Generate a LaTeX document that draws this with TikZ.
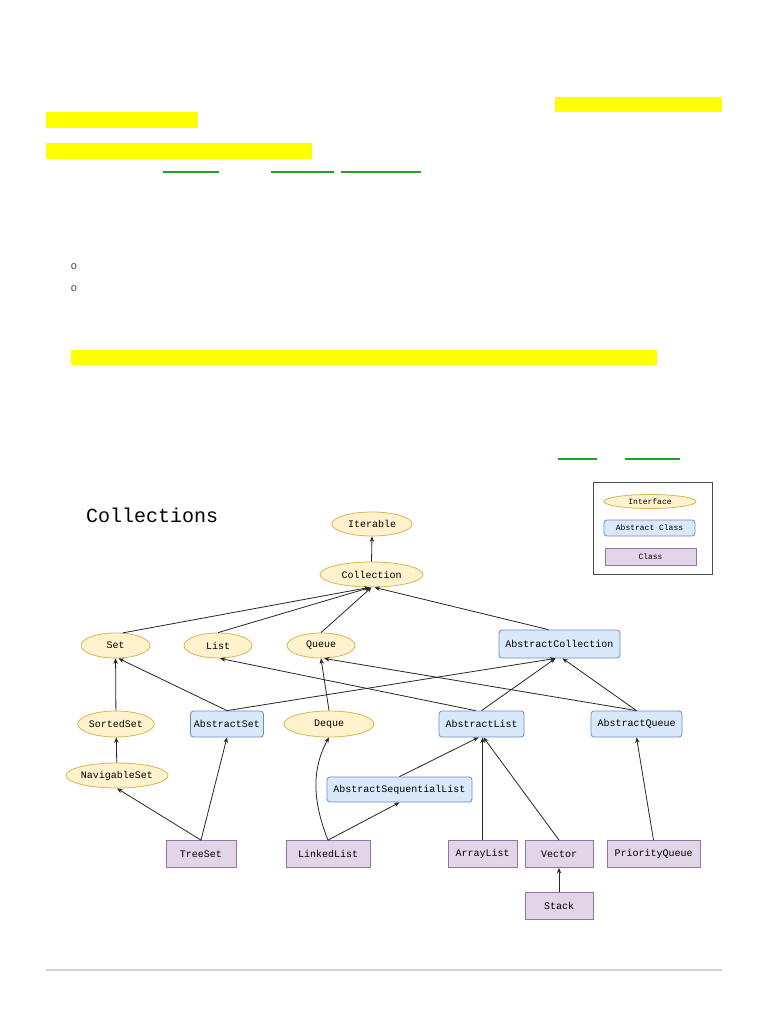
\documentclass[tikz,border=0pt]{standalone}
\usepackage{fontspec}
\setmonofont{Liberation Mono}
\usetikzlibrary{shapes.geometric}
\usetikzlibrary{arrows.meta}
\definecolor{ifacefill}{RGB}{255,242,204}
\definecolor{ifaceline}{RGB}{214,182,86}
\definecolor{absfill}{RGB}{218,232,252}
\definecolor{absline}{RGB}{108,142,191}
\definecolor{clsfill}{RGB}{225,213,231}
\definecolor{clsline}{RGB}{150,115,166}
\definecolor{hilite}{RGB}{255,255,0}
\definecolor{linkgreen}{RGB}{34,160,34}

\begin{document}
\begin{tikzpicture}[x=1pt, y=-1pt, font=\ttfamily\fontsize{10}{12}\selectfont,
    iface/.style={ellipse, draw=ifaceline, fill=ifacefill, line width=0.8pt, inner sep=0pt, minimum height=26pt},
    absclass/.style={rectangle, rounded corners=3pt, draw=absline, fill=absfill, line width=0.8pt, inner sep=0pt, minimum height=26pt},
    cls/.style={rectangle, draw=clsline, fill=clsfill, line width=0.8pt, inner sep=0pt, minimum height=27pt},
    isa/.style={-{Stealth[length=5.5pt,width=4.5pt]}, line width=0.8pt, black!85}]
    \useasboundingbox (0,0) rectangle (768,1024);
    \fill[white] (0,0) rectangle (768,1024);

    % highlighted text and links
    \fill[hilite] (555,97) rectangle (722,112);
    \fill[hilite] (46,112) rectangle (198,128);
    \fill[hilite] (46,143) rectangle (312,159);
    \fill[hilite] (71,350) rectangle (657,365);
    \draw[linkgreen, line width=1.6pt] (163,172) -- (219,172);
    \draw[linkgreen, line width=1.6pt] (271,172) -- (334,172);
    \draw[linkgreen, line width=1.6pt] (341,172) -- (421,172);
    \draw[linkgreen, line width=1.6pt] (558,459) -- (597,459);
    \draw[linkgreen, line width=1.6pt] (625,459) -- (680,459);
    \node[black!70, font=\ttfamily\fontsize{11}{12}\selectfont] (bulA) at (74,267) {o};
    \node[black!70, font=\ttfamily\fontsize{11}{12}\selectfont] (bulB) at (74,289) {o};
    \draw[black!18, line width=1.5pt] (46,970) -- (722,970);

    % title and legend
    \node[anchor=west, inner sep=0pt, font=\ttfamily\fontsize{20}{24}\selectfont] (title) at (86,515) {Collections};
    \node[draw=black!70, line width=1pt, minimum width=119pt, minimum height=92pt] (legend) at (652.5,528) {};
    \node[iface, minimum width=92pt, minimum height=14pt, font=\ttfamily\fontsize{8}{9}\selectfont] (keyiface) at (650,501.5) {Interface};
    \node[absclass, minimum width=91pt, minimum height=16pt, font=\ttfamily\fontsize{8}{9}\selectfont] (keyabs) at (649.5,528) {Abstract Class};
    \node[cls, minimum width=91pt, minimum height=17pt, font=\ttfamily\fontsize{8}{9}\selectfont] (keycls) at (650.5,556.5) {Class};

    % interfaces
    \node[iface, minimum width=80pt, minimum height=24pt] (iter) at (372,524) {Iterable};
    \node[iface, minimum width=103pt, minimum height=25pt] (coll) at (371.5,574.5) {Collection};
    \node[iface, minimum width=69pt, minimum height=25pt] (set) at (115.5,645.5) {Set};
    \node[iface, minimum width=68pt, minimum height=25pt] (list) at (218,645.5) {List};
    \node[iface, minimum width=68pt, minimum height=25pt] (queue) at (321,645.5) {Queue};
    \node[iface, minimum width=68pt] (sortedset) at (116,724) {SortedSet};
    \node[iface, minimum width=90pt] (deque) at (329,724) {Deque};
    \node[iface, minimum width=102pt, minimum height=25pt] (navset) at (117,775.5) {NavigableSet};

    % abstract classes
    \node[absclass, minimum width=121pt, minimum height=28pt] (abscoll) at (559.5,644) {AbstractCollection};
    \node[absclass, minimum width=73pt] (absset) at (227,724) {AbstractSet};
    \node[absclass, minimum width=85pt] (abslist) at (481.5,724) {AbstractList};
    \node[absclass, minimum width=91pt] (absqueue) at (636.5,724) {AbstractQueue};
    \node[absclass, minimum width=145pt, minimum height=25pt] (asl) at (399.5,789.5) {AbstractSequentialList};

    % classes
    \node[cls, minimum width=70pt] (treeset) at (201,854) {TreeSet};
    \node[cls, minimum width=84pt] (linkedlist) at (328,854) {LinkedList};
    \node[cls, minimum width=69pt] (arraylist) at (482.5,854) {ArrayList};
    \node[cls, minimum width=68pt] (vector) at (559,854) {Vector};
    \node[cls, minimum width=93pt] (pqueue) at (653.5,854) {PriorityQueue};
    \node[cls, minimum width=68pt] (stack) at (559,906) {Stack};

    % inheritance arrows
    \draw[isa] (coll.north) -- (iter.south);
    \draw[isa] (set.60) -- ([xshift=-2pt]coll.south);
    \draw[isa] (list.north) -- ([xshift=-1pt]coll.south);
    \draw[isa] (queue.north) -- (coll.south);
    \draw[isa] ([xshift=-11pt]abscoll.north) -- ([xshift=3pt]coll.south);
    \draw[isa] (sortedset) -- (set);
    \draw[isa] (absset.north) -- ([xshift=3pt]set.south);
    \draw[isa] (absset.north) -- ([xshift=-4pt]abscoll.south);
    \draw[isa] (deque.north) -- (queue.south);
    \draw[isa] ([xshift=-6pt]abslist.north) -- ([xshift=2pt]list.south);
    \draw[isa] (abslist.north) -- ([xshift=-4pt]abscoll.south);
    \draw[isa] (absqueue.north) -- ([xshift=3pt]queue.south);
    \draw[isa] (absqueue.north) -- ([xshift=3pt]abscoll.south);
    \draw[isa] (navset) -- (sortedset);
    \draw[isa] (treeset.north) -- (navset.south);
    \draw[isa] (treeset.north) -- (absset.south);
    \draw[isa] (linkedlist.north) .. controls (312,800) and (312,768) .. (deque.south);
    \draw[isa] (linkedlist.north) -- (asl.south);
    \draw[isa] (asl.north) -- ([xshift=-3pt]abslist.south);
    \draw[isa] (arraylist.north) -- (arraylist.north |- abslist.south);
    \draw[isa] (vector.north) -- ([xshift=2pt]abslist.south);
    \draw[isa] (pqueue.north) -- (absqueue.south);
    \draw[isa] (stack) -- (vector);
\end{tikzpicture}
\end{document}
